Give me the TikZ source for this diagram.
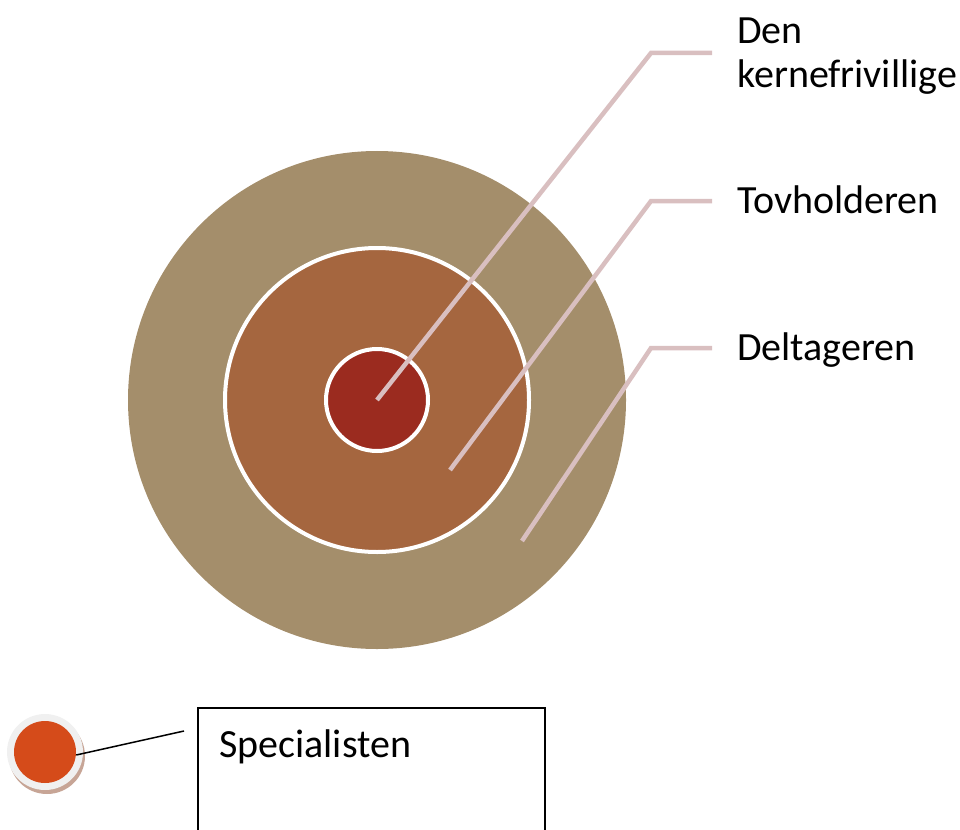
\documentclass[tikz,border=0pt]{standalone}
\usepackage{fontspec}
\setmainfont{Carlito}
\usepackage{xcolor}
\definecolor{ydre}{HTML}{A48E6B}
\definecolor{midt}{HTML}{A5663F}
\definecolor{kerne}{HTML}{9B2B1F}
\definecolor{leder}{HTML}{D9BFC0}
\definecolor{orange}{HTML}{D54B1A}
\definecolor{skygge}{HTML}{C7A596}
\def\tekstfont{\fontsize{40}{44}\selectfont}
\usetikzlibrary{calc}

\begin{document}
\begin{tikzpicture}[x=1pt,y=-1pt,declare function ={r1=51pt;r2=152pt;r3=249pt;rs=31pt;rh=38pt;},
	ledelinje/.style={draw=leder,line width=4.5pt},
	etiket/.style={anchor=base west,inner sep=0pt,align=left,font=\tekstfont}]
		\useasboundingbox (0,0) rectangle (960,829);
		\path (377,400) coordinate (O);
		% cirklerne
		\fill[ydre] (O) circle (r3);
		\filldraw[fill=midt,draw=white,line width=4pt] (O) circle (r2);
		\filldraw[fill=kerne,draw=white,line width=4pt] (O) circle (r1);
		% etiketter
		\node[etiket] (kernefri) at (737,88) {Den\\kernefrivillige};
		\node[etiket] (tov) at (737,213) {Tovholderen};
		\node[etiket] (delt) at (737,360) {Deltageren};
		\path (651,53) coordinate (k1) (712,53) coordinate (k2)
		(450,470) coordinate (t0) (651,201) coordinate (t1) (712,201) coordinate (t2)
		(522,541) coordinate (d0) (651,348) coordinate (d1) (712,348) coordinate (d2);
		\draw[ledelinje] (O) -- (k1) -- (k2);
		\draw[ledelinje] (t0) -- (t1) -- (t2);
		\draw[ledelinje] (d0) -- (d1) -- (d2);
		% specialisten
		\path (45,752) coordinate (S);
		\fill[skygge] ($(S)+(2,4)$) circle (rh);
		\fill[black!6] (S) circle (rh);
		\node[shape=circle,fill=orange,minimum size=2*rs,inner sep=0pt] (prik) at (S) {};
		\draw[line width=1.5pt] (198,708) rectangle (545,840);
		\node[etiket] (spec) at (219,757) {Specialisten};
		\path (184,731) coordinate (s1);
		\draw[line width=1.5pt] (prik.east) ++(0,3) -- (s1);
	\end{tikzpicture}
\end{document}
